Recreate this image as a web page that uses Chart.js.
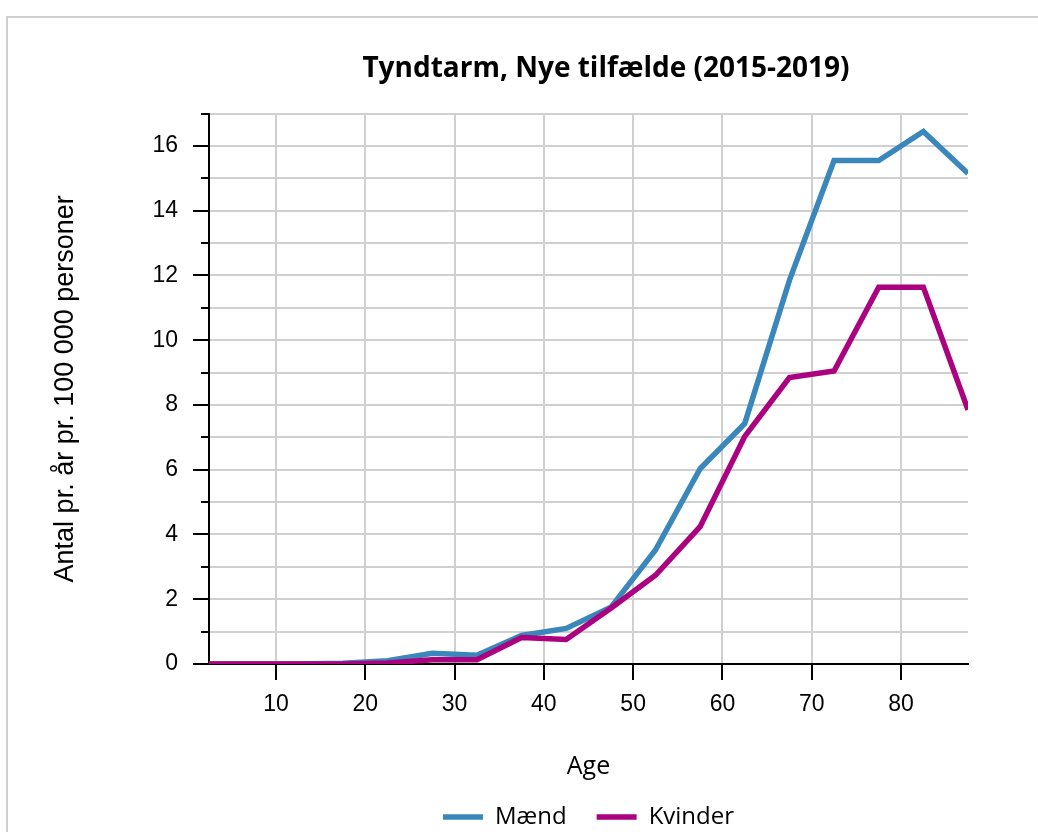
<!DOCTYPE html>
<html>
<head>
<meta charset="utf-8">
<script src="https://cdn.jsdelivr.net/npm/chart.js@4"></script>
<style>
  html, body { margin: 0; padding: 0; overflow: hidden; background: #fff; }
  #frame { position: absolute; left: 6px; top: 16px; width: 1200px; height: 1000px; border: 2px solid #d0d0d0; }
  #myChart { position: absolute; left: 0; top: 0; }
</style>
</head>
<body>
<div id="frame"></div>
<canvas id="myChart" width="1212" height="839"></canvas>
<script>
// age group midpoints (5-year groups)
const ages = [2.5, 7.5, 12.5, 17.5, 22.5, 27.5, 32.5, 37.5, 42.5, 47.5, 52.5, 57.5, 62.5, 67.5, 72.5, 77.5, 82.5, 87.5];
const maend = [0, 0, 0, 0.02, 0.1, 0.33, 0.27, 0.88, 1.1, 1.75, 3.52, 6.03, 7.43, 11.85, 15.55, 15.55, 16.45, 15.15];
const kvinder = [0, 0, 0, 0, 0.03, 0.13, 0.13, 0.82, 0.76, 1.72, 2.74, 4.24, 7.03, 8.85, 9.05, 11.64, 11.64, 7.85];
const xTicks = [10, 20, 30, 40, 50, 60, 70, 80];
const yMax = 17;

const blue = '#3a87bc';
const pink = '#ab037f';

function toPoints(values) {
    return ages.map((a, i) => ({ x: a, y: values[i] }));
}

// tick marks: long ones at labelled values, short ones between
const tickMarks = {
    id: 'tickMarks',
    afterDraw(chart) {
        const ctx = chart.ctx;
        const area = chart.chartArea;
        const x = chart.scales.x;
        const y = chart.scales.y;
        ctx.save();
        ctx.strokeStyle = '#000';
        ctx.lineWidth = 2;
        ctx.beginPath();
        y.ticks.forEach(t => {
            const py = Math.round(y.getPixelForValue(t.value));
            const len = t.value % 2 === 0 ? 16 : 8;
            ctx.moveTo(area.left - len, py);
            ctx.lineTo(area.left, py);
        });
        x.ticks.forEach(t => {
            const px = Math.round(x.getPixelForValue(t.value));
            ctx.moveTo(px, area.bottom);
            ctx.lineTo(px, area.bottom + 16);
        });
        ctx.stroke();
        ctx.restore();
    }
};

const ctx = document.getElementById('myChart').getContext('2d');
const myChart = new Chart(ctx, {
    type: 'line',
    data: {
        datasets: [{
            label: 'Mænd',
            data: toPoints(maend),
            borderColor: blue,
            backgroundColor: blue,
            borderWidth: 5.5,
            order: 1
        }, {
            label: 'Kvinder',
            data: toPoints(kvinder),
            borderColor: pink,
            backgroundColor: pink,
            borderWidth: 5.5,
            order: 0
        }]
    },
    options: {
        responsive: false,
        animation: false,
        devicePixelRatio: 1,
        layout: { padding: 0 },
        elements: {
            point: { radius: 0, hoverRadius: 0 },
            line: { tension: 0, borderJoinStyle: 'miter', fill: false }
        },
        datasets: { line: { clip: 0 } },
        plugins: {
            tooltip: { enabled: false },
            title: {
                display: true,
                text: 'Tyndtarm, Nye tilfælde (2015-2019)',
                color: '#000',
                font: { family: 'Open Sans', size: 28, weight: 'bold', lineHeight: 1.2 },
                padding: { top: 52, bottom: 28 }
            },
            legend: {
                position: 'bottom',
                fullSize: false,
                labels: {
                    color: '#000',
                    font: { family: 'Open Sans', size: 24 },
                    usePointStyle: true,
                    pointStyle: 'line',
                    pointStyleWidth: 40,
                    padding: 30,
                    sort: (a, b) => a.datasetIndex - b.datasetIndex
                }
            }
        },
        scales: {
            x: {
                type: 'linear',
                min: 2.5,
                max: 87.5,
                afterBuildTicks: s => { s.ticks = xTicks.map(v => ({ value: v })); },
                afterFit: s => { s.height = 111; },
                grid: { color: '#d0d0d0', lineWidth: 2, drawTicks: false },
                border: { color: '#000', width: 2 },
                ticks: {
                    color: '#000',
                    padding: 27,
                    font: { family: 'Liberation Sans', size: 23 }
                },
                title: {
                    display: true,
                    text: 'Age',
                    color: '#000',
                    font: { family: 'Open Sans', size: 25, lineHeight: 1 },
                    padding: { top: 0, bottom: -4 }
                }
            },
            y: {
                min: 0,
                max: yMax,
                afterBuildTicks: s => {
                    const t = [];
                    for (let v = 0; v <= yMax; v++) t.push({ value: v });
                    s.ticks = t;
                },
                afterFit: s => { s.width = 209; },
                grid: { color: '#d0d0d0', lineWidth: 2, drawTicks: false },
                border: { color: '#000', width: 2 },
                ticks: {
                    color: '#000',
                    padding: 31,
                    font: { family: 'Liberation Sans', size: 23 },
                    callback: v => (v % 2 === 0 ? String(v) : '')
                },
                title: {
                    display: true,
                    text: 'Antal pr. år pr. 100 000 personer',
                    color: '#000',
                    font: { family: 'Liberation Sans', size: 27, lineHeight: 1.2 },
                    padding: { top: 49, bottom: 0 }
                }
            },
            spacer: {
                type: 'linear',
                position: 'right',
                grid: { display: false, drawTicks: false },
                border: { display: false },
                ticks: { display: false },
                afterFit: s => { s.width = 244; }
            }
        }
    },
    plugins: [tickMarks]
});
</script>
</body>
</html>
